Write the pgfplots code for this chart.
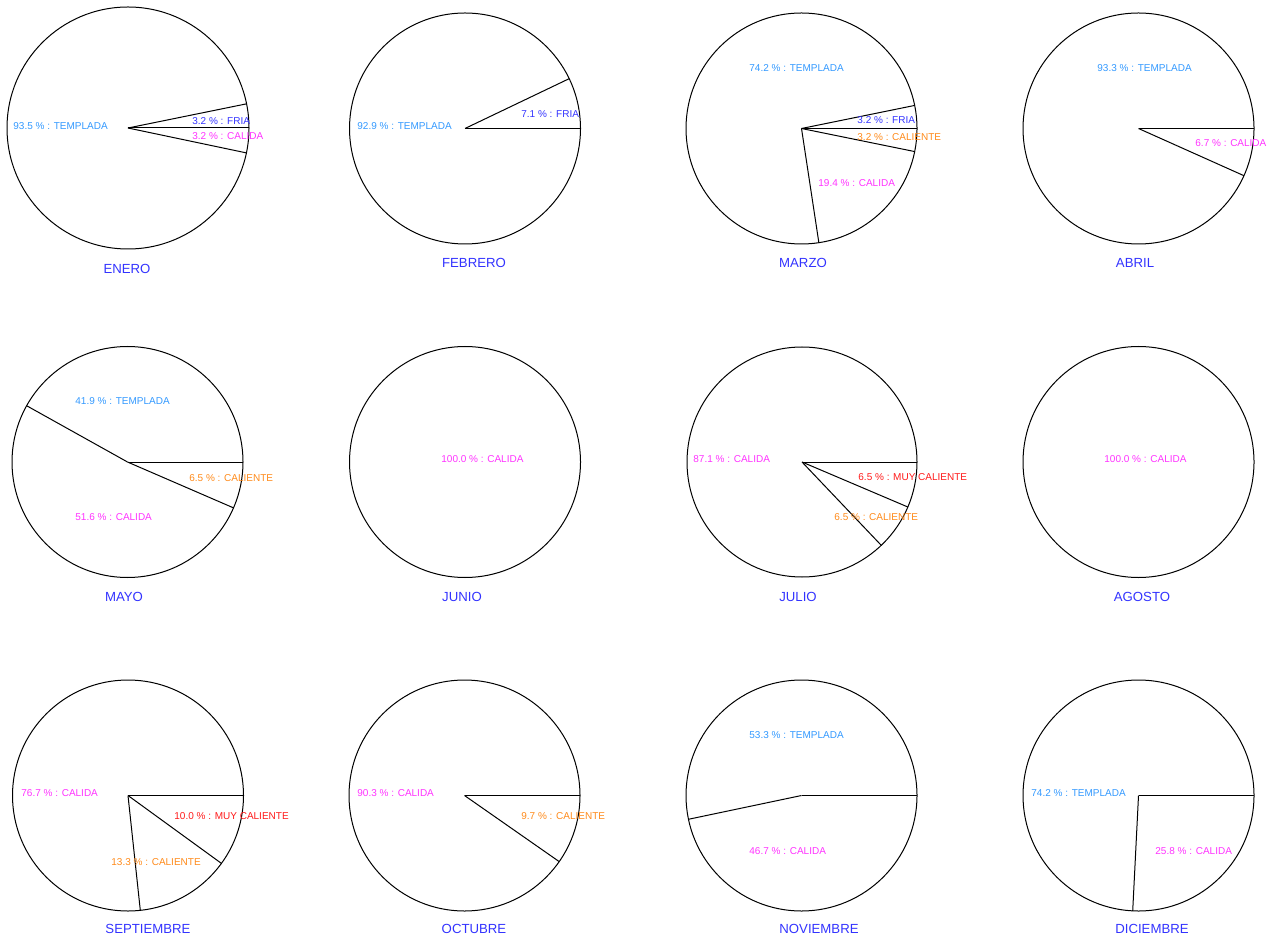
\documentclass[border=0pt]{standalone}
\usepackage{pgfplots}
\pgfplotsset{compat=1.18}
\usepackage{fontspec}
\setmainfont{Liberation Sans}

\definecolor{cTempl}{HTML}{3399FF}
\definecolor{cFria}{HTML}{3333FF}
\definecolor{cCalida}{HTML}{FF33FF}
\definecolor{cCaliente}{HTML}{FF8A1A}
\definecolor{cMuy}{HTML}{FF1A1A}
\definecolor{cMes}{HTML}{3333FF}

\tikzset{
  pieline/.style={black, line width=0.5pt},
  lab/.style={anchor=west, inner sep=0pt, font=\fontsize{5}{6}\selectfont},
  mes/.style={anchor=center, inner sep=0pt, text=cMes, font=\fontsize{6.6}{8}\selectfont},
}

% pie: centre x, centre y, radius (px), shares in % counter-clockwise from 0 deg
\newcommand\pie[4]{%
  \draw[pieline] (axis cs:#1,#2) circle[radius=#3*0.5pt];
  \gdef\cum{0}%
  \foreach \p in {#4}{%
    \pgfmathsetmacro\ang{3.6*\cum}%
    \pgfmathsetmacro\ex{#1+#3*cos(\ang)}%
    \pgfmathsetmacro\ey{#2-#3*sin(\ang)}%
    \ifdim\p pt<99.9pt
      \edef\tmp{\noexpand\draw[pieline] (axis cs:#1,#2) -- (axis cs:\ex,\ey);}\tmp
    \fi
    \pgfmathsetmacro\newcum{\cum+\p}\xdef\cum{\newcum}%
  }%
}

\begin{document}
\begin{tikzpicture}
\path[use as bounding box] (0,0) rectangle (636pt,470pt);
\begin{axis}[
    at={(0,0)}, anchor=south west,
    scale only axis, width=636pt, height=470pt,
    xmin=0, xmax=1272, ymin=0, ymax=940,
    y dir=reverse,
    hide axis, clip=false,
]
% ---- row 1
\pie{128}{128}{121}{3.2,93.5,3.2}
\node[lab, text=cTempl]   at (axis cs:13,126)  {93.5 \% : TEMPLADA};
\node[lab, text=cFria]    at (axis cs:192,121) {3.2 \% : FRIA};
\node[lab, text=cCalida]  at (axis cs:192,136) {3.2 \% : CALIDA};
\node[mes] at (axis cs:127,269) {ENERO};

\pie{465}{128.5}{115.5}{7.1,92.9}
\node[lab, text=cTempl]   at (axis cs:357,126) {92.9 \% : TEMPLADA};
\node[lab, text=cFria]    at (axis cs:521,114) {7.1 \% : FRIA};
\node[mes] at (axis cs:474,263) {FEBRERO};

\pie{801.5}{128.5}{115.5}{3.2,74.2,19.4,3.2}
\node[lab, text=cTempl]    at (axis cs:749,68)  {74.2 \% : TEMPLADA};
\node[lab, text=cFria]     at (axis cs:857,120) {3.2 \% : FRIA};
\node[lab, text=cCaliente] at (axis cs:857,137) {3.2 \% : CALIENTE};
\node[lab, text=cCalida]   at (axis cs:818,183) {19.4 \% : CALIDA};
\node[mes] at (axis cs:803,263) {MARZO};

\pie{1138.5}{128.5}{115.5}{93.3,6.7}
\node[lab, text=cTempl]   at (axis cs:1097,68)  {93.3 \% : TEMPLADA};
\node[lab, text=cCalida]  at (axis cs:1195,143) {6.7 \% : CALIDA};
\node[mes] at (axis cs:1135,263) {ABRIL};

% ---- row 2
\pie{127.5}{462}{115.5}{41.9,51.6,6.5}
\node[lab, text=cTempl]    at (axis cs:75,401)  {41.9 \% : TEMPLADA};
\node[lab, text=cCaliente] at (axis cs:189,478) {6.5 \% : CALIENTE};
\node[lab, text=cCalida]   at (axis cs:75,517)  {51.6 \% : CALIDA};
\node[mes] at (axis cs:124,597) {MAYO};

\pie{465}{462}{115.5}{100}
\node[lab, text=cCalida]   at (axis cs:441,459) {100.0 \% : CALIDA};
\node[mes] at (axis cs:462,597) {JUNIO};

\pie{802}{462}{115}{87.1,6.5,6.5}
\node[lab, text=cCalida]   at (axis cs:693,459) {87.1 \% : CALIDA};
\node[lab, text=cMuy]      at (axis cs:858,477) {6.5 \% : MUY CALIENTE};
\node[lab, text=cCaliente] at (axis cs:834,517) {6.5 \% : CALIENTE};
\node[mes] at (axis cs:798,597) {JULIO};

\pie{1138.5}{462}{115.5}{100}
\node[lab, text=cCalida]   at (axis cs:1104,459) {100.0 \% : CALIDA};
\node[mes] at (axis cs:1142,597) {AGOSTO};

% ---- row 3
\pie{128}{795.5}{115.5}{76.7,13.3,10.0}
\node[lab, text=cCalida]   at (axis cs:21,793)  {76.7 \% : CALIDA};
\node[lab, text=cMuy]      at (axis cs:174,816) {10.0 \% : MUY CALIENTE};
\node[lab, text=cCaliente] at (axis cs:111,862) {13.3 \% : CALIENTE};
\node[mes] at (axis cs:148,929) {SEPTIEMBRE};

\pie{464.5}{795.5}{115.5}{90.3,9.7}
\node[lab, text=cCalida]   at (axis cs:357,793) {90.3 \% : CALIDA};
\node[lab, text=cCaliente] at (axis cs:521,816) {9.7 \% : CALIENTE};
\node[mes] at (axis cs:474,929) {OCTUBRE};

\pie{801.5}{795.5}{115.5}{53.3,46.7}
\node[lab, text=cTempl]    at (axis cs:749,735) {53.3 \% : TEMPLADA};
\node[lab, text=cCalida]   at (axis cs:749,851) {46.7 \% : CALIDA};
\node[mes] at (axis cs:819,929) {NOVIEMBRE};

\pie{1138.5}{795.5}{115.5}{74.2,25.8}
\node[lab, text=cTempl]    at (axis cs:1031,793) {74.2 \% : TEMPLADA};
\node[lab, text=cCalida]   at (axis cs:1155,851) {25.8 \% : CALIDA};
\node[mes] at (axis cs:1152,929) {DICIEMBRE};
\end{axis}
\end{tikzpicture}
\end{document}
